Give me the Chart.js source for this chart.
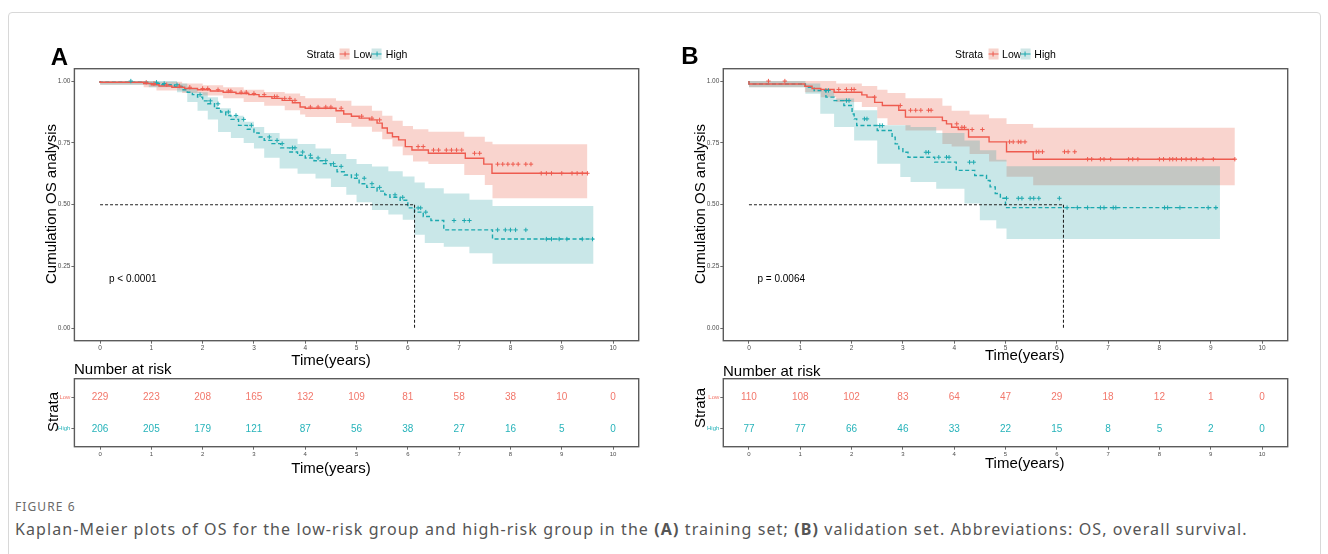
<!DOCTYPE html>
<html><head><meta charset="utf-8">
<script src="https://cdn.jsdelivr.net/npm/chart.js@4.4.1/dist/chart.umd.min.js"></script>
<style>
body{margin:0;background:#fff;width:1328px;height:554px;position:relative;overflow:hidden;font-family:'Liberation Sans',Arial,sans-serif;}
.frame{position:absolute;left:8px;top:12px;width:1311px;height:600px;border:1px solid #d8d8d8;border-radius:4px;}
canvas{position:absolute;}
.t{position:absolute;white-space:nowrap;color:#000;line-height:1;}
.c{transform:translate(-50%,-50%);}
.l{transform:translate(0,-50%);}
.r{transform:translate(-50%,-50%) rotate(-90deg);}
.panel{font-weight:bold;font-size:24px;}
.ytitle{font-size:15px;}
.xtitle{font-size:15px;}
.legend{display:flex;align-items:center;font-size:10.5px;}
.key{position:relative;display:inline-block;width:10px;height:11px;}
.key i{position:absolute;left:0;right:0;top:5px;height:1.3px;}
.key b{position:absolute;left:4.5px;top:3px;width:1px;height:5px;}
.kr{background:#F7D3CC;margin:0 4px 0 5px;}
.kr i,.kr b{background:#EE5B4F;}
.kt{background:#CFE6E6;margin:0 4px 0 -1px;}
.kt i,.kt b{background:#1CA9AF;}
.pval{font-size:10px;}
.cap1{font-family:'Noto Sans',sans-serif;font-size:12px;letter-spacing:1.1px;color:#6a6a6a;}
.cap2{font-family:'Noto Sans',sans-serif;font-size:16px;letter-spacing:1.1px;color:#555;}
</style>
</head><body>
<div class="frame"></div>
<canvas id="kmA" width="620" height="300" style="left:30px;top:60px;width:620px;height:300px"></canvas>
<canvas id="riskA" width="620" height="95" style="left:30px;top:370px;width:620px;height:95px"></canvas>
<canvas id="kmB" width="620" height="300" style="left:680px;top:60px;width:620px;height:300px"></canvas>
<canvas id="riskB" width="620" height="95" style="left:680px;top:370px;width:620px;height:95px"></canvas>

<div class="t c panel" style="left:59.5px;top:56.5px">A</div>
<div class="t c panel" style="left:690px;top:55.5px">B</div>

<div class="t c legend" style="left:357px;top:54px"><span>Strata</span><span class="key kr"><i></i><b></b></span><span>Low</span><span class="key kt"><i></i><b></b></span><span>High</span></div>
<div class="t c legend" style="left:1005.5px;top:54px"><span>Strata</span><span class="key kr"><i></i><b></b></span><span>Low</span><span class="key kt"><i></i><b></b></span><span>High</span></div>

<div class="t r ytitle" style="left:50px;top:204px">Cumulation OS analysis</div>
<div class="t r ytitle" style="left:698.5px;top:204px">Cumulation OS analysis</div>

<div class="t l pval" style="left:109px;top:279px">p &lt; 0.0001</div>
<div class="t l pval" style="left:757.5px;top:279px">p = 0.0064</div>

<div class="t c xtitle" style="left:331px;top:359px">Time(years)</div>
<div class="t c xtitle" style="left:1024.7px;top:353.5px">Time(years)</div>

<div class="t l xtitle" style="left:74px;top:368px">Number at risk</div>
<div class="t l xtitle" style="left:723px;top:370px">Number at risk</div>

<div class="t r ytitle" style="left:52px;top:412px">Strata</div>
<div class="t r ytitle" style="left:699px;top:408px">Strata</div>

<div class="t c xtitle" style="left:331px;top:467px">Time(years)</div>
<div class="t c xtitle" style="left:1024.7px;top:462px">Time(years)</div>

<div class="t l cap1" style="left:15px;top:507px">FIGURE 6</div>
<div class="t l cap2" style="left:15px;top:529px">Kaplan-Meier plots of OS for the low-risk group and high-risk group in the <b>(A)</b> training set; <b>(B)</b> validation set. Abbreviations: OS, overall survival.</div>

<script>
// ---------- shared ----------
const riskTimes = [0,1,2,3,4,5,6,7,8,9,10];
const yTicks = [0, 0.25, 0.5, 0.75, 1];
const strataLevels = ['High','Low']; // 1 = High, 2 = Low

// ---------- Panel A (training set) ----------
const tA_low = [0,0.85,1.0,1.15,1.4,1.65,1.9,2.15,2.4,2.65,2.9,3.1,3.35,3.55,3.75,3.9,4.0,4.6,4.75,4.9,5.05,5.25,5.4,5.5,5.6,5.7,5.82,5.95,6.08,6.4,7.12,7.48,7.64,8.49,9.5];
const sA_low = [1,0.995,0.99,0.985,0.98,0.975,0.97,0.965,0.96,0.955,0.95,0.945,0.937,0.93,0.922,0.912,0.895,0.89,0.88,0.867,0.858,0.85,0.843,0.83,0.81,0.79,0.775,0.762,0.735,0.721,0.708,0.688,0.664,0.627,0.627];
const tA_lowBand = [0,0.85,1.1,1.6,2.0,2.4,2.8,3.2,3.6,3.9,4.0,4.6,4.9,5.3,5.5,5.7,5.9,6.1,6.4,7.1,7.5,7.65,8.49,9.5];
const upA_low = [1,1,1,0.997,0.99,0.983,0.975,0.965,0.956,0.95,0.94,0.93,0.92,0.9,0.88,0.86,0.84,0.818,0.805,0.795,0.775,0.755,0.744,0.744];
const loA_low = [1,0.985,0.975,0.962,0.952,0.942,0.93,0.915,0.9,0.882,0.865,0.855,0.83,0.815,0.795,0.765,0.735,0.7,0.675,0.665,0.62,0.58,0.526,0.526];

const tA_high = [0,0.95,1.2,1.45,1.6,1.7,1.8,1.9,2.0,2.1,2.23,2.35,2.45,2.55,2.7,2.87,3.0,3.1,3.2,3.35,3.52,3.7,3.85,4.0,4.17,4.35,4.5,4.62,4.76,4.9,5.05,5.2,5.4,5.55,5.65,5.85,6.0,6.13,6.3,6.45,6.7,7.65,8.62,9.62];
const sA_high = [1,0.995,0.99,0.985,0.978,0.965,0.955,0.945,0.935,0.92,0.908,0.89,0.875,0.861,0.845,0.821,0.805,0.79,0.774,0.76,0.747,0.73,0.713,0.7,0.689,0.678,0.666,0.655,0.633,0.62,0.607,0.585,0.57,0.555,0.54,0.53,0.518,0.487,0.47,0.452,0.436,0.398,0.361,0.361];
const tA_highBand = [0,0.95,1.5,1.7,1.9,2.1,2.3,2.55,2.8,3.0,3.2,3.5,3.85,4.2,4.5,4.8,5.0,5.3,5.62,5.9,6.13,6.33,6.7,7.2,7.65,8.62,9.62];
const upA_high = [1,1,1,0.99,0.97,0.955,0.935,0.89,0.86,0.835,0.814,0.79,0.767,0.745,0.727,0.705,0.685,0.665,0.654,0.635,0.614,0.59,0.567,0.545,0.52,0.495,0.495];
const loA_high = [1,0.985,0.975,0.955,0.915,0.88,0.845,0.794,0.77,0.75,0.727,0.69,0.646,0.625,0.606,0.572,0.54,0.51,0.479,0.46,0.439,0.378,0.345,0.33,0.304,0.261,0.261];

const cA_lowT = [0.9,1.05,1.3,1.55,1.75,2.0,2.1,2.3,2.5,2.55,2.75,2.85,3.0,3.2,3.4,3.45,3.6,3.7,3.8,4.1,4.25,4.4,4.5,4.7,5.1,5.3,5.45,6.2,6.3,6.5,6.6,6.75,6.85,6.95,7.05,7.3,7.4,7.75,7.85,7.95,8.05,8.15,8.3,8.4,8.6,8.7,8.8,9.0,9.2,9.3,9.4,9.5];
const cA_lowS = [0.995,0.99,0.985,0.98,0.975,0.97,0.97,0.965,0.96,0.96,0.955,0.955,0.95,0.945,0.937,0.937,0.93,0.93,0.922,0.895,0.895,0.895,0.895,0.89,0.858,0.85,0.843,0.735,0.735,0.721,0.721,0.721,0.721,0.721,0.721,0.708,0.708,0.664,0.664,0.664,0.664,0.664,0.664,0.664,0.627,0.627,0.627,0.627,0.627,0.627,0.627,0.627];
const cA_highT = [0.6,1.1,1.25,1.5,1.95,2.15,2.3,2.5,2.65,2.8,2.95,3.3,3.45,3.55,3.75,3.8,3.95,4.1,4.25,4.4,4.55,4.7,5.0,5.15,5.3,5.45,5.75,5.9,6.2,6.25,6.35,6.9,7.1,7.2,7.75,7.9,8.0,8.1,8.3,8.7,8.8,8.95,9.1,9.4,9.6];
const cA_highS = [1,0.995,0.99,0.985,0.945,0.92,0.908,0.875,0.861,0.845,0.821,0.774,0.76,0.747,0.73,0.73,0.713,0.7,0.689,0.678,0.666,0.655,0.62,0.607,0.585,0.57,0.54,0.53,0.487,0.487,0.47,0.436,0.436,0.436,0.398,0.398,0.398,0.398,0.398,0.361,0.361,0.361,0.361,0.361,0.361];
const medianA = 6.13;
const riskA_low = [229,223,208,165,132,109,81,58,38,10,0];
const riskA_high = [206,205,179,121,87,56,38,27,16,5,0];

// ---------- Panel B (validation set) ----------
const tB_low = [0,1.09,1.23,1.4,1.66,2.2,2.3,2.45,2.6,2.92,3.05,3.77,3.85,3.95,4.08,4.28,4.68,5.02,5.54,6.42,9.47];
const sB_low = [1,0.988,0.979,0.97,0.966,0.955,0.944,0.935,0.914,0.901,0.882,0.854,0.84,0.827,0.813,0.804,0.774,0.754,0.714,0.684,0.684];
const tB_lowBand = [0,1.09,1.4,1.7,2.2,2.5,2.7,3.05,3.77,3.95,4.3,4.68,5.02,5.54,6.42,9.47];
const upB_low = [1,1,1,1,0.99,0.98,0.965,0.952,0.93,0.9,0.88,0.865,0.85,0.826,0.811,0.811];
const loB_low = [1,0.975,0.955,0.935,0.915,0.895,0.85,0.822,0.8,0.745,0.735,0.705,0.675,0.613,0.579,0.579];

const tB_high = [0,1.1,1.27,1.5,1.66,1.85,2.01,2.05,2.1,2.5,2.79,2.85,2.92,3.0,3.1,3.62,4.04,4.4,4.63,4.7,4.8,4.9,5.0,6.13,9.18];
const sB_high = [1,0.988,0.975,0.962,0.935,0.921,0.901,0.867,0.847,0.82,0.8,0.773,0.746,0.726,0.712,0.692,0.672,0.639,0.618,0.598,0.572,0.545,0.526,0.488,0.488];
const tB_highBand = [0,1.1,1.39,1.66,2.05,2.5,2.95,3.15,3.65,4.2,4.5,4.82,5.02,6.13,9.18];
const upB_high = [1,1,0.99,0.96,0.929,0.882,0.821,0.821,0.814,0.79,0.76,0.72,0.682,0.656,0.656];
const loB_high = [1,0.975,0.949,0.868,0.814,0.76,0.666,0.612,0.592,0.565,0.505,0.437,0.404,0.361,0.361];

const cB_lowT = [0.38,0.7,1.75,1.9,2.0,2.05,2.45,2.95,3.15,3.25,3.35,3.5,3.55,4.05,4.15,4.2,4.35,4.55,5.08,5.15,5.25,5.3,5.38,5.6,5.65,5.72,6.15,6.22,6.35,6.6,6.68,6.85,6.92,7.05,7.4,7.48,7.58,8.0,8.08,8.2,8.26,8.33,8.43,8.52,8.62,8.72,8.85,9.05,9.47];
const cB_lowS = [1,1,0.966,0.966,0.966,0.966,0.935,0.901,0.882,0.882,0.882,0.882,0.882,0.827,0.813,0.813,0.804,0.804,0.754,0.754,0.754,0.754,0.754,0.714,0.714,0.714,0.714,0.714,0.714,0.684,0.684,0.684,0.684,0.684,0.684,0.684,0.684,0.684,0.684,0.684,0.684,0.684,0.684,0.684,0.684,0.684,0.684,0.684,0.684];
const cB_highT = [1.5,1.55,1.9,1.95,2.25,2.3,2.55,2.6,3.45,3.5,3.7,3.85,3.9,4.3,4.38,5.02,5.25,5.32,5.48,5.55,5.65,6.05,6.2,6.4,6.6,6.85,6.92,7.1,7.15,8.1,8.16,8.4,8.95,9.1];
const cB_highS = [0.962,0.962,0.921,0.921,0.847,0.847,0.82,0.82,0.712,0.712,0.692,0.692,0.692,0.672,0.672,0.526,0.526,0.526,0.526,0.526,0.526,0.526,0.488,0.488,0.488,0.488,0.488,0.488,0.488,0.488,0.488,0.488,0.488,0.488];
const medianB = 6.13;
const riskB_low = [110,108,102,83,64,47,29,18,12,1,0];
const riskB_high = [77,77,66,46,33,22,15,8,5,2,0];

// ---------- styling ----------
const RED = '#EE5B4F', TEAL = '#1CA9AF';
const RED_BAND = 'rgba(235,100,80,0.28)', TEAL_BAND = 'rgba(40,160,165,0.25)';
const RED_TXT = '#F2776B', TEAL_TXT = '#27B3BA';
const FONT = 'Liberation Sans';
const NONE = 'rgba(0,0,0,0)';

const pts = (xs, ys) => xs.map((x, i) => ({x, y: ys[i]}));

const framePlugin = {
  id: 'frame',
  afterDatasetsDraw(chart) {
    const {ctx, chartArea: a} = chart;
    ctx.save();
    ctx.strokeStyle = '#5b5b5b';
    ctx.lineWidth = 1.4;
    ctx.strokeRect(a.left, a.top, a.right - a.left, a.bottom - a.top);
    ctx.restore();
  }
};

const riskPlugin = {
  id: 'risk',
  afterDatasetsDraw(chart, args, opts) {
    const {ctx} = chart, xs = chart.scales.x, ys = chart.scales.y;
    ctx.save();
    ctx.font = '10px ' + FONT;
    ctx.textAlign = 'center';
    ctx.textBaseline = 'middle';
    (opts.rows || []).forEach(r => {
      ctx.fillStyle = r.color;
      r.values.forEach((v, i) => ctx.fillText(String(v), xs.getPixelForValue(riskTimes[i]), ys.getPixelForValue(r.level)));
    });
    ctx.restore();
  }
};

function xScale(h, fontSize) {
  return {
    type: 'linear', min: -0.5, max: 10.5,
    afterBuildTicks: s => { s.ticks = riskTimes.map(v => ({value: v})); },
    afterFit: s => { s.height = h; },
    ticks: {font: {family: FONT, size: fontSize}, color: '#4d4d4d', padding: 1, maxRotation: 0, autoSkip: false},
    grid: {drawOnChartArea: false, drawTicks: true, tickLength: 3, color: '#444', lineWidth: 0.8},
    border: {display: false}
  };
}

function kmChart(id, d) {
  const band = (xs, ys, fill, color, order) => ({
    data: pts(xs, ys), borderColor: NONE, borderWidth: 0, pointRadius: 0, stepped: 'after',
    fill: fill, backgroundColor: color, order: order
  });
  return new Chart(document.getElementById(id), {
    type: 'line',
    data: {datasets: [
      band(d.lowBandT, d.lowUp, false, NONE, 7),
      band(d.lowBandT, d.lowLo, '-1', RED_BAND, 7),
      band(d.highBandT, d.highUp, false, NONE, 6),
      band(d.highBandT, d.highLo, '-1', TEAL_BAND, 6),
      {data: pts(d.lowT, d.lowS), borderColor: RED, borderWidth: 1.4, pointRadius: 0, stepped: 'after', fill: false, order: 3},
      {data: pts(d.highT, d.highS), borderColor: TEAL, borderWidth: 1.4, borderDash: [4, 2.5], pointRadius: 0, stepped: 'after', fill: false, order: 3},
      {data: pts(d.cenLowT, d.cenLowS), showLine: false, pointStyle: 'cross', pointRadius: 2.2, pointBorderColor: RED, pointBorderWidth: 1, order: 2},
      {data: pts(d.cenHighT, d.cenHighS), showLine: false, pointStyle: 'cross', pointRadius: 2.2, pointBorderColor: TEAL, pointBorderWidth: 1, order: 2},
      {data: [{x: 0, y: 0.5}, {x: d.median, y: 0.5}], borderColor: '#222', borderWidth: 1.1, borderDash: [3, 2], pointRadius: 0, fill: false, order: 1},
      {data: [{x: d.median, y: 0.5}, {x: d.median, y: 0}], borderColor: '#222', borderWidth: 1.1, borderDash: [3, 2], pointRadius: 0, fill: false, order: 1}
    ]},
    options: {
      responsive: false, animation: false, events: [],
      layout: {padding: {left: 0, right: d.padRight, top: 8.7, bottom: 0}},
      plugins: {legend: {display: false}, tooltip: {enabled: false}},
      scales: {
        x: xScale(19.3, 6.5),
        y: {
          type: 'linear', min: -0.05, max: 1.05,
          afterBuildTicks: s => { s.ticks = yTicks.map(v => ({value: v})); },
          afterFit: s => { s.width = d.yWidth; },
          ticks: {callback: v => Number(v).toFixed(2), font: {family: FONT, size: 6.5}, color: '#4d4d4d', padding: 1},
          grid: {drawOnChartArea: false, drawTicks: true, tickLength: 3, color: '#444', lineWidth: 0.8},
          border: {display: false}
        }
      }
    },
    plugins: [framePlugin]
  });
}

function riskChart(id, d) {
  return new Chart(document.getElementById(id), {
    type: 'line',
    data: {datasets: []},
    options: {
      responsive: false, animation: false, events: [],
      layout: {padding: {left: 0, right: d.padRight, top: 8.7, bottom: 0}},
      plugins: {legend: {display: false}, tooltip: {enabled: false},
        risk: {rows: [{level: 2, values: d.low, color: RED_TXT}, {level: 1, values: d.high, color: TEAL_TXT}]}},
      scales: {
        x: xScale(18.3, 6),
        y: {
          type: 'linear', min: 0.43, max: 2.6,
          afterBuildTicks: s => { s.ticks = [{value: 1}, {value: 2}]; },
          afterFit: s => { s.width = d.yWidth; },
          ticks: {callback: v => strataLevels[Math.round(v) - 1], font: {family: FONT, size: 6},
                  color: c => (c.tick && c.tick.value === 2) ? RED_TXT : TEAL_TXT, padding: 1},
          grid: {drawOnChartArea: false, drawTicks: true, tickLength: 3, color: '#444', lineWidth: 0.8},
          border: {display: false}
        }
      }
    },
    plugins: [framePlugin, riskPlugin]
  });
}

kmChart('kmA', {
  lowT: tA_low, lowS: sA_low, lowBandT: tA_lowBand, lowUp: upA_low, lowLo: loA_low,
  highT: tA_high, highS: sA_high, highBandT: tA_highBand, highUp: upA_high, highLo: loA_high,
  cenLowT: cA_lowT, cenLowS: cA_lowS, cenHighT: cA_highT, cenHighS: cA_highS,
  median: medianA, padRight: 11.3, yWidth: 44.4
});
riskChart('riskA', {low: riskA_low, high: riskA_high, padRight: 11.3, yWidth: 44.4});

kmChart('kmB', {
  lowT: tB_low, lowS: sB_low, lowBandT: tB_lowBand, lowUp: upB_low, lowLo: loB_low,
  highT: tB_high, highS: sB_high, highBandT: tB_highBand, highUp: upB_high, highLo: loB_high,
  cenLowT: cB_lowT, cenLowS: cB_lowS, cenHighT: cB_highT, cenHighS: cB_highS,
  median: medianB, padRight: 12.3, yWidth: 43.3
});
riskChart('riskB', {low: riskB_low, high: riskB_high, padRight: 12.3, yWidth: 43.3});
</script>
</body></html>
